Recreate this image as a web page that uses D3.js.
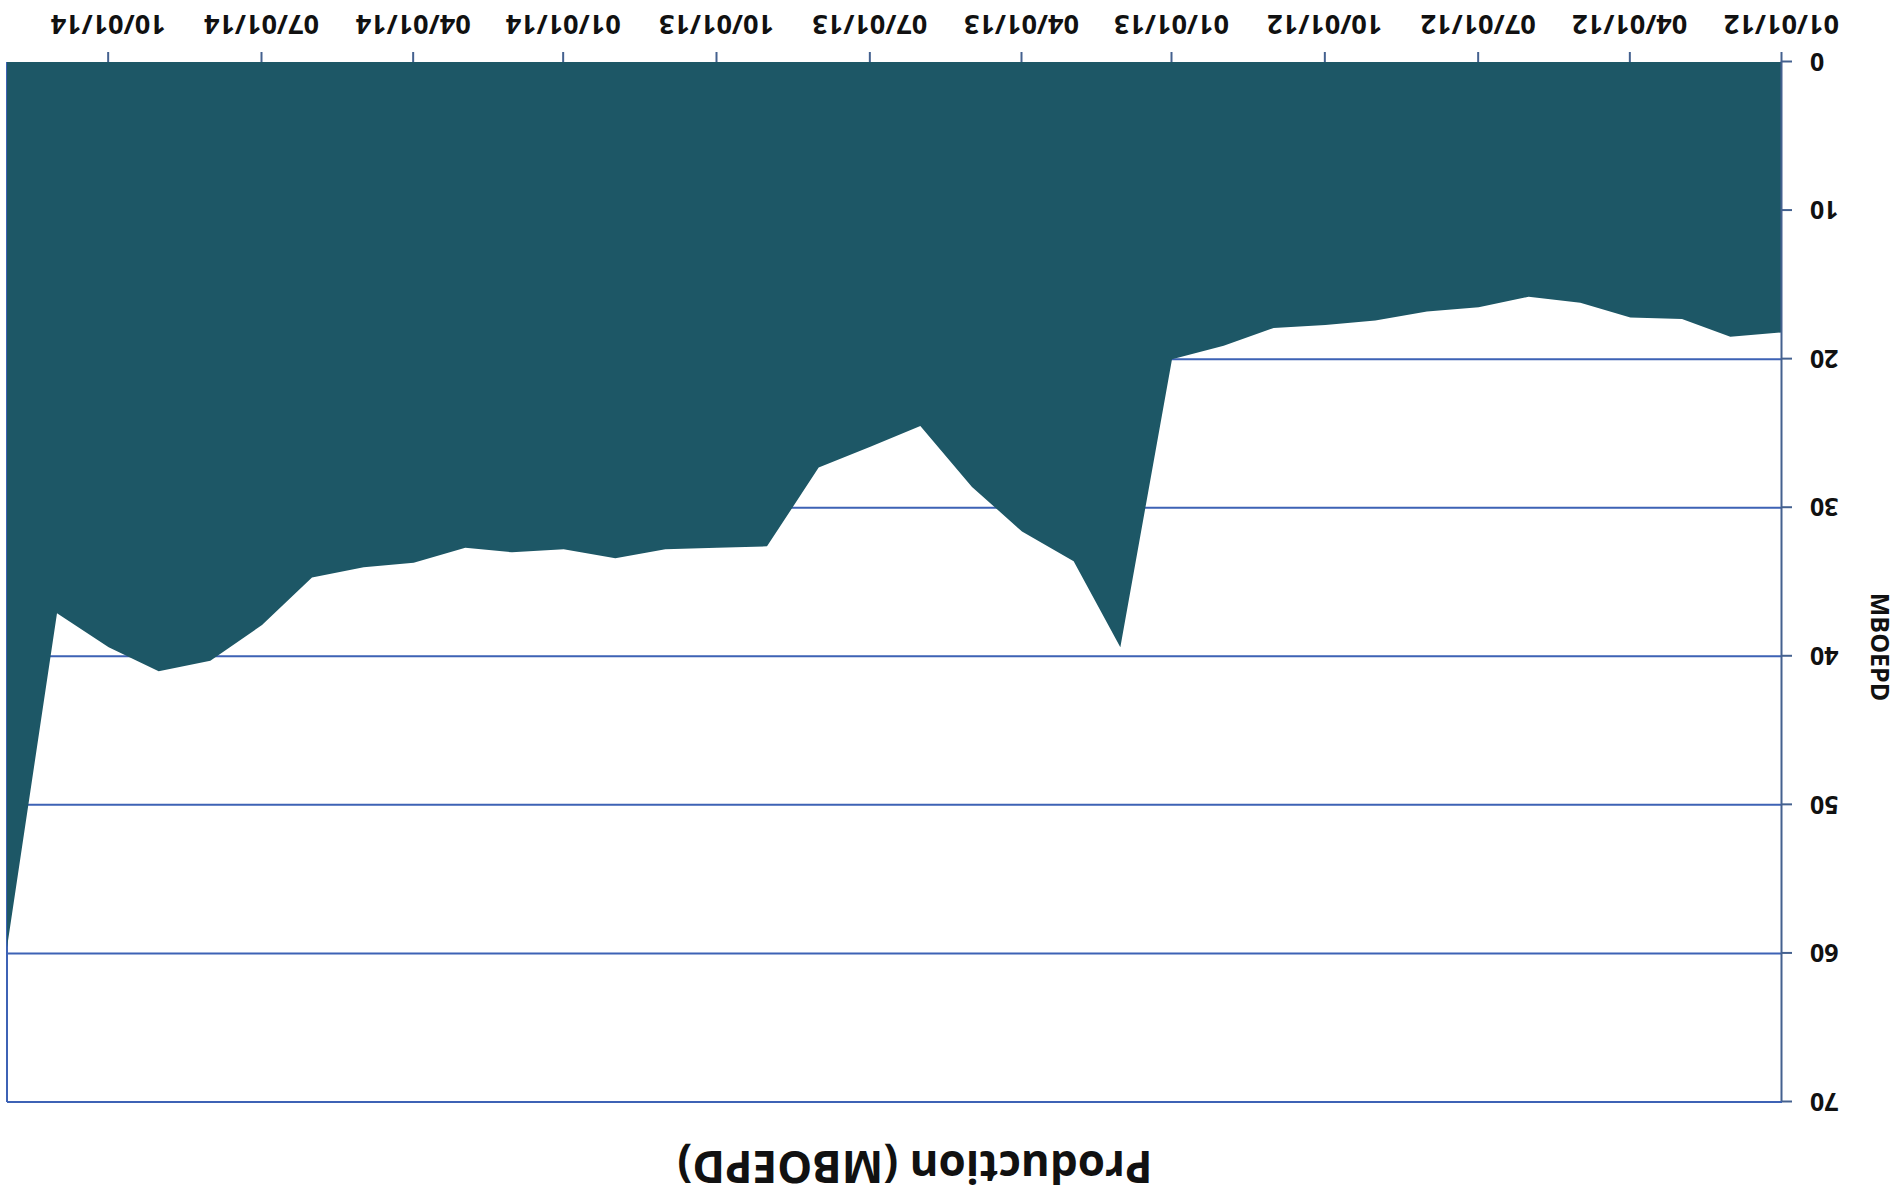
<!DOCTYPE html>
<meta charset="utf-8">
<title>Production (MBOEPD)</title>
<style>

body {
  margin: 0;
  background: #fff;
}

text {
  font-family: "Open Sans", sans-serif;
  font-weight: bold;
  fill: #111;
}

</style>
<body>
<script src="https://cdn.jsdelivr.net/npm/d3@7"></script>
<script>

// monthly production, first of each month
var months = [
  "2012-01", "2012-02", "2012-03", "2012-04", "2012-05", "2012-06",
  "2012-07", "2012-08", "2012-09", "2012-10", "2012-11", "2012-12",
  "2013-01", "2013-02", "2013-03", "2013-04", "2013-05", "2013-06",
  "2013-07", "2013-08", "2013-09", "2013-10", "2013-11", "2013-12",
  "2014-01", "2014-02", "2014-03", "2014-04", "2014-05", "2014-06",
  "2014-07", "2014-08", "2014-09", "2014-10", "2014-11", "2014-12"
];

var production = [
  18.2, 18.5, 17.3, 17.2, 16.2, 15.8, 16.5, 16.8, 17.4, 17.7, 17.9, 19.1,
  20.0, 39.4, 33.6, 31.6, 28.6, 24.5, 25.9, 27.3, 32.6, 32.7, 32.8, 33.4,
  32.8, 33.0, 32.7, 33.7, 34.0, 34.7, 37.9, 40.3, 41.0, 39.4, 37.1, 59.6
];

var yTicks = [0, 10, 20, 30, 40, 50, 60, 70];

var title = "Production (MBOEPD)",
    yTitle = "MBOEPD";

// "top" is taken by window.top, so the plot edges get their own names
var w = 1898,
    h = 1199,
    plotLeft = 116,
    plotRight = 1891,
    plotTop = 97,
    plotBottom = 1137;

var parse = d3.timeParse("%Y-%m");
var data = months.map(function(m, i) { return {date: parse(m), value: production[i]}; });

var x = d3.scaleTime()
    .domain(d3.extent(data, function(d) { return d.date; }))
    .range([plotLeft, plotRight]);

var y = d3.scaleLinear()
    .domain([0, 70])
    .range([plotBottom, plotTop]);

var svg = d3.select("body").append("svg")
    .attr("width", w)
    .attr("height", h);

// the whole chart is drawn the normal way round, then turned upside down
var g = svg.append("g")
    .attr("transform", "rotate(180," + w / 2 + "," + h / 2 + ")");

g.selectAll(".grid")
    .data(yTicks.slice(1))
  .enter().append("line")
    .attr("class", "grid")
    .attr("x1", plotLeft)
    .attr("x2", plotRight)
    .attr("y1", y)
    .attr("y2", y)
    .style("stroke", "#3d62b5")
    .style("stroke-width", 2);

g.append("line")
    .attr("x1", plotRight)
    .attr("x2", plotRight)
    .attr("y1", plotTop)
    .attr("y2", plotBottom)
    .style("stroke", "#3d62b5")
    .style("stroke-width", 2);

var area = d3.area()
    .x(function(d) { return x(d.date); })
    .y0(y(0))
    .y1(function(d) { return y(d.value); });

g.append("path")
    .datum(data)
    .attr("d", area)
    .style("fill", "#1d5766");

var xAxis = g.append("g")
    .attr("transform", "translate(0," + plotBottom + ")")
    .call(d3.axisBottom(x)
      .ticks(d3.timeMonth.every(3))
      .tickFormat(d3.timeFormat("%m/%d/%y"))
      .tickSizeInner(10)
      .tickSizeOuter(0));

xAxis.select(".domain").remove();
xAxis.selectAll("line").style("stroke", "#44618f").style("stroke-width", 2);
xAxis.selectAll("text")
    .attr("y", 38)
    .attr("dy", "0.35em")
    .style("font-size", "27px")
    .style("font-family", "'Open Sans', sans-serif")
    .style("fill", "#111");

var yAxis = g.append("g")
    .attr("transform", "translate(" + plotLeft + ",0)")
    .call(d3.axisLeft(y)
      .tickValues(yTicks)
      .tickSizeInner(10)
      .tickSizeOuter(0));

yAxis.select(".domain").style("stroke", "#44618f").style("stroke-width", 2);
yAxis.selectAll("line").style("stroke", "#44618f").style("stroke-width", 2);
yAxis.selectAll("text")
    .attr("x", -28)
    .attr("dy", "0.35em")
    .style("font-size", "25px")
    .style("font-family", "'Open Sans', sans-serif")
    .style("fill", "#111");

g.append("text")
    .attr("x", 983)
    .attr("y", 33)
    .attr("dy", "0.35em")
    .attr("text-anchor", "middle")
    .style("font-size", "44px")
    .text(title);

g.append("text")
    .attr("transform", "translate(18,552)rotate(-90)")
    .attr("dy", "0.35em")
    .attr("text-anchor", "middle")
    .style("font-size", "25px")
    .text(yTitle);

</script>
